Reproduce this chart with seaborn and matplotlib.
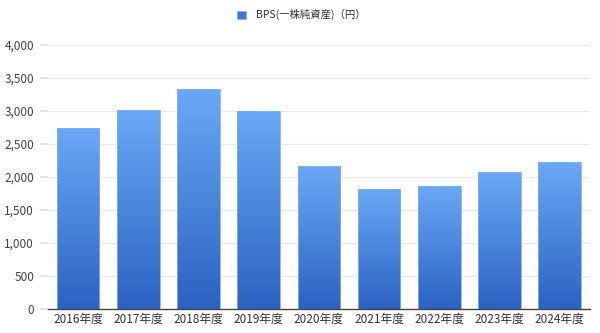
import numpy as np
import pandas as pd
import matplotlib
matplotlib.use("Agg")
import matplotlib.pyplot as plt
import seaborn as sns
from matplotlib.colors import LinearSegmentedColormap
from matplotlib.patches import Patch

years = ["2016年度", "2017年度", "2018年度", "2019年度", "2020年度",
         "2021年度", "2022年度", "2023年度", "2024年度"]
bps = [2740, 3010, 3330, 3000, 2160, 1820, 1860, 2070, 2230]
series_label = "BPS(一株純資産)（円）"
yticks = [0, 500, 1000, 1500, 2000, 2500, 3000, 3500, 4000]

sns.set_theme(style="white")
plt.rcParams['font.family'] = ['Noto Sans CJK JP', 'DejaVu Sans']

df = pd.DataFrame({"year": years, "bps": bps})

fig = plt.figure(figsize=(6.0, 3.33), dpi=100)
ax = fig.add_axes([0.08, 0.072, 0.903, 0.793])

sns.barplot(data=df, x="year", y="bps", ax=ax, width=0.71,
            color="#5b95e8", saturation=1, zorder=3)

cmap = LinearSegmentedColormap.from_list("g", ["#2c62c2", "#4a86dc", "#6aa8f6"])
grad = np.linspace(0, 1, 256).reshape(-1, 1)
for p in ax.patches:
    x0, y0 = p.get_x(), p.get_y()
    w, h = p.get_width(), p.get_height()
    p.set_facecolor("none")
    p.set_edgecolor("#7fb2f2")
    p.set_linewidth(0.6)
    im = ax.imshow(grad, cmap=cmap, origin="lower", aspect="auto",
                   extent=[x0, x0 + w, y0, y0 + h], zorder=2.5)
    im.set_clip_path(p)

ax.set_xlim(-0.5, len(years) - 0.5)
ax.set_ylim(0, 4000)
ax.set_yticks(yticks)
ax.set_yticklabels([f"{v:,}" for v in yticks])
ax.set_xlabel("")
ax.set_ylabel("")
ax.grid(axis="y", color="#e8e8e8", linewidth=0.8, zorder=0)
ax.grid(axis="x", visible=False)
for s in ["top", "right", "left"]:
    ax.spines[s].set_visible(False)
ax.spines["bottom"].set_color("#444444")
ax.spines["bottom"].set_linewidth(1.0)
ax.tick_params(axis="y", length=6, color="#e0e0e0", labelsize=8.5,
               labelcolor="#444444", pad=4, left=True)
ax.tick_params(axis="x", length=0, labelsize=8.5, labelcolor="#333333", pad=3)

handle = Patch(facecolor="#3f78d6", edgecolor="#7fb2f2", linewidth=0.5)
fig.legend([handle], [series_label], loc="upper center",
           bbox_to_anchor=(0.502, 1.0), frameon=False, fontsize=7.5,
           handlelength=0.85, handleheight=0.85, handletextpad=0.9,
           labelcolor="#333333")

fig.savefig("out.png", dpi=100)
